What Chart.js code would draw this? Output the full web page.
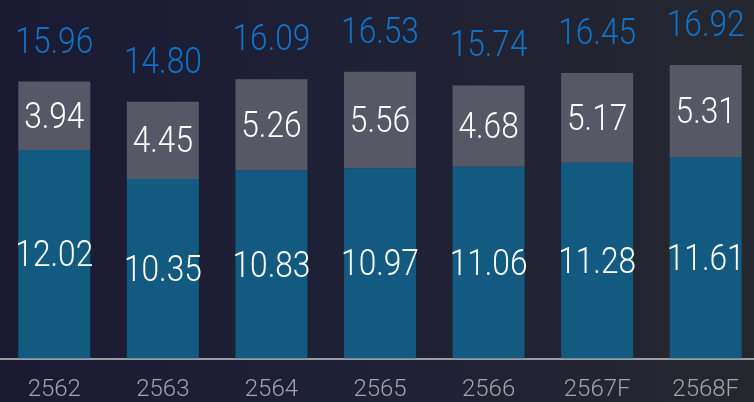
<!DOCTYPE html>
<html>
<head>
<meta charset="utf-8">
<script src="https://cdn.jsdelivr.net/npm/chart.js@4.4.1/dist/chart.umd.min.js"></script>
<style>
    html, body { margin: 0; padding: 0; width: 754px; height: 402px; overflow: hidden; }
    body { background: linear-gradient(90deg, #1a1b33 0%, #1e2035 45%, #25272f 100%); }
    #wrap { position: absolute; left: 0; top: 0; width: 760px; height: 421px; }
</style>
</head>
<body>
<div id="wrap"><canvas id="myBarChart"></canvas></div>
<script>
// values
let years = ['2562', '2563', '2564', '2565', '2566', '2567F', '2568F'],
    baseValues = [12.02, 10.35, 10.83, 10.97, 11.06, 11.28, 11.61],
    topValues = [3.94, 4.45, 5.26, 5.56, 4.68, 5.17, 5.31],
    totalValues = [15.96, 14.80, 16.09, 16.53, 15.74, 16.45, 16.92]

let fontName = 'Roboto, "DejaVu Sans Condensed", sans-serif'

// draw text a bit condensed, like the original font
function condensedText(ctx, text, x, y) {
    ctx.save()
    ctx.translate(x, y)
    ctx.scale(0.88, 1)
    ctx.fillText(text, 0, 0)
    ctx.restore()
}

// draws the numbers inside the bars and the totals above them
let valueLabels = {
    id: 'valueLabels',
    afterDatasetsDraw: function (chart) {
        let ctx = chart.ctx
        ctx.save()
        ctx.textAlign = 'center'
        ctx.textBaseline = 'middle'
        ctx.font = '300 36px ' + fontName
        chart.data.datasets.forEach(function (ds, di) {
            let meta = chart.getDatasetMeta(di)
            meta.data.forEach(function (bar, i) {
                ctx.fillStyle = '#ffffff'
                let mid = (bar.y + bar.base) / 2
                condensedText(ctx, ds.data[i].toFixed(2), bar.x, mid + 3)
            })
        })
        // totals
        let topMeta = chart.getDatasetMeta(1)
        ctx.fillStyle = '#1272c6'
        topMeta.data.forEach(function (bar, i) {
            condensedText(ctx, totalValues[i].toFixed(2), bar.x, bar.y - 38)
        })
        ctx.restore()
    }
}

let ctx = document.getElementById('myBarChart')
new Chart(ctx, {
    type: 'bar',
    data: {
        labels: years,
        datasets: [{
            data: baseValues,
            backgroundColor: '#135a80'
        }, {
            data: topValues,
            backgroundColor: '#575866'
        }]
    },
    options: {
        responsive: true,
        maintainAspectRatio: false,
        animation: false,
        layout: { padding: 0 },
        datasets: {
            bar: { barPercentage: 0.663, categoryPercentage: 1 }
        },
        plugins: {
            legend: { display: false },
            tooltip: { enabled: false }
        },
        scales: {
            x: {
                stacked: true,
                z: 1,
                grid: { display: false, drawTicks: false },
                border: { display: true, color: '#9c9ca4', width: 2 },
                ticks: {
                    color: '#a4a4aa',
                    padding: 18,
                    font: { family: fontName, size: 24, weight: 300, lineHeight: 1.1 }
                }
            },
            y: {
                stacked: true,
                display: false,
                min: 0,
                max: 20.66
            }
        }
    },
    plugins: [valueLabels]
})
</script>
</body>
</html>
